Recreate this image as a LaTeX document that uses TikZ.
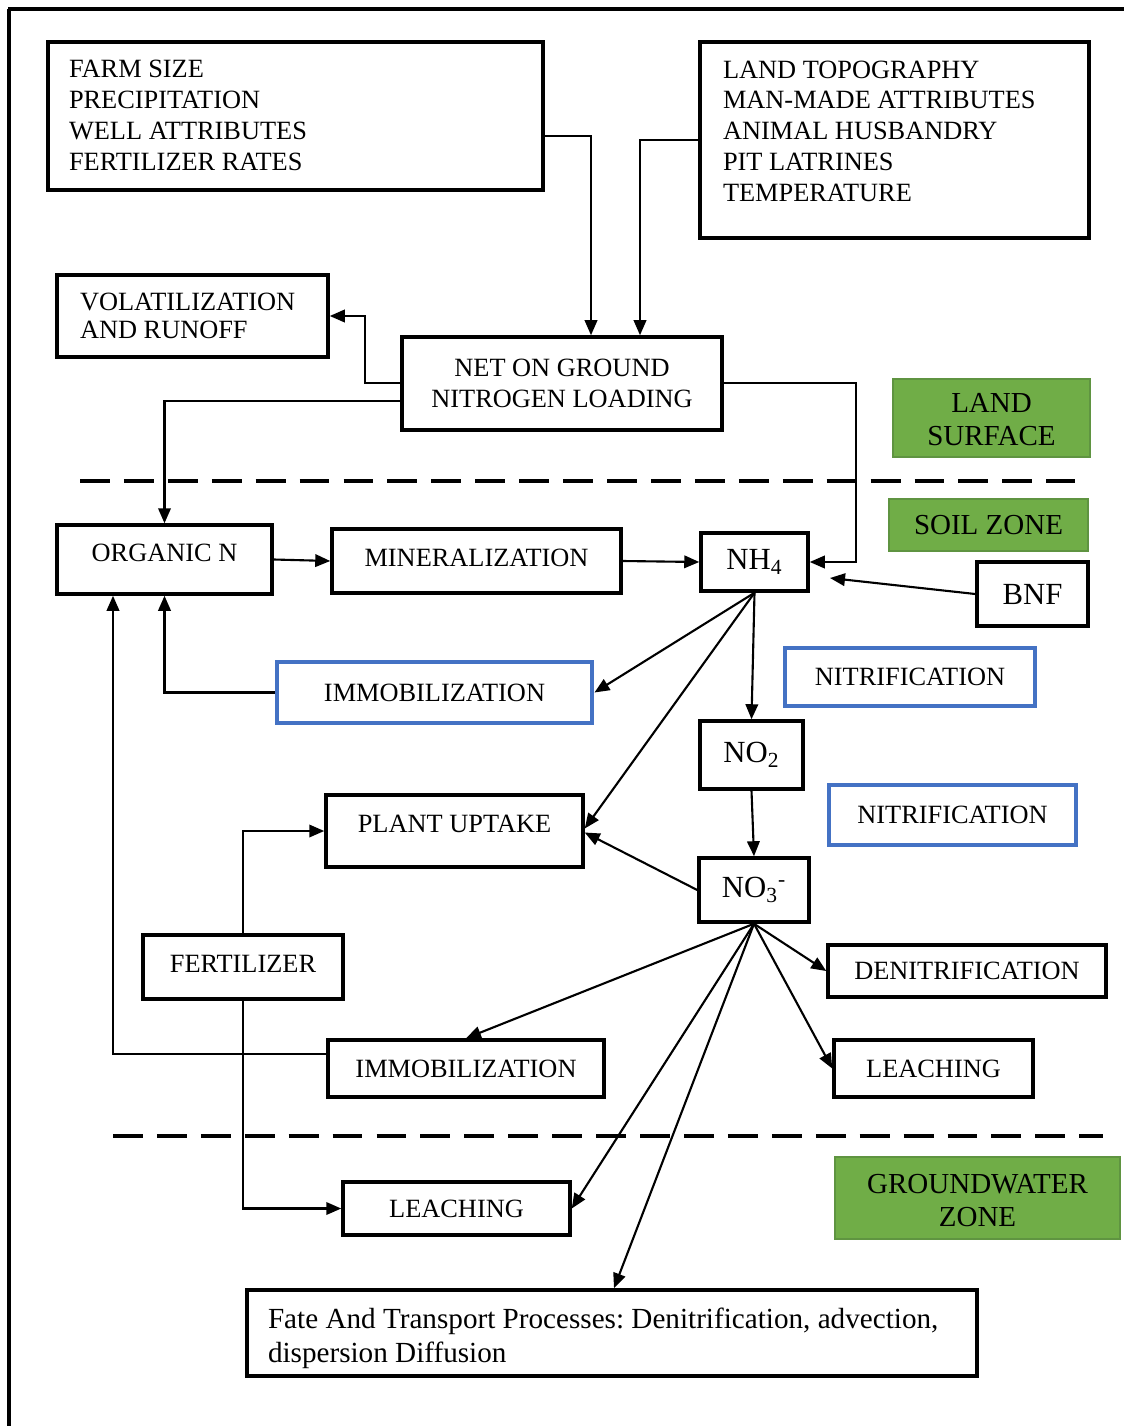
\documentclass[tikz,border=0pt]{standalone}
\usepackage{fontspec}
\setmainfont{Liberation Serif}
\usetikzlibrary{arrows.meta}
\frenchspacing
\newlength\pxl \setlength\pxl{0.02cm}
\newcommand\fsA{\fontsize{15}{17.6}\selectfont}
\newcommand\fsB{\fontsize{16.5}{18.7}\selectfont}
\newcommand\fsC{\fontsize{17.5}{21}\selectfont}
\newcommand\liftup[2]{\raisebox{#1\pxl}[10\pxl][10\pxl]{#2}}
\newcommand\lefttext[3]{\makebox[#1\pxl][l]{\raisebox{#2\pxl}[30\pxl][30\pxl]{\begin{tabular}{@{}l@{}}#3\end{tabular}}}}
\newcommand\centertext[2]{\raisebox{#1\pxl}[30\pxl][30\pxl]{\begin{tabular}{@{}c@{}}#2\end{tabular}}}
\definecolor{blueb}{HTML}{4472C4}
\definecolor{greenf}{HTML}{70AD47}
\definecolor{greend}{HTML}{5F9441}
\tikzset{
  rect/.style n args={4}{at={({(#1+#3)/2},{(#2+#4)/2})},
    minimum width={(#3-#1)*0.02cm}, minimum height={(#4-#2)*0.02cm}},
  bbox/.style={draw=black, line width=2pt, inner sep=0pt, font=\fsA, fill=white},
  blbox/.style={draw=blueb, line width=2.8pt, inner sep=0pt, font=\fsA, fill=white},
  gbox/.style={draw=greend, fill=greenf, line width=1pt, inner sep=0pt, font=\fsB, align=center},
  conn/.style={line width=1.2pt, -{Triangle[length=0.3cm,width=0.25cm]}},
  zoneline/.style={line width=2.3pt, dash pattern=on 17pt off 8pt},
  framing/.style={line width=1.8pt}
}
\begin{document}
\begin{tikzpicture}[x=0.02cm,y=-0.02cm]
\useasboundingbox (0,0) rectangle (1124,1426);
% frame
\draw[framing] (8,9) -- (1124,9);
\draw[framing] (9,9) -- (9,1426);
% zone lines
\draw[zoneline] (80,481) -- (1075,481);
\draw[zoneline] (113,1136) -- (1103,1136);
% nodes
\node[bbox, rect={48}{42}{543}{190}] (farm) {\lefttext{453}{-8}{FARM SIZE\\PRECIPITATION\\WELL ATTRIBUTES\\FERTILIZER RATES}};
\node[bbox, rect={700}{42}{1089}{238}] (land) {\lefttext{343}{0}{LAND TOPOGRAPHY\\MAN-MADE ATTRIBUTES\\ANIMAL HUSBANDRY\\PIT LATRINES\\TEMPERATURE}};
\node[bbox, rect={57}{275}{328}{357}, font=\fontsize{15}{15.9}\selectfont] (vol) {\lefttext{225}{-9}{VOLATILIZATION\\AND RUNOFF}};
\node[bbox, rect={402}{337}{722}{430}, align=center] (net) {NET ON GROUND\\NITROGEN LOADING};
\node[gbox, rect={893}{379}{1090}{457}] (lsurf) {\centertext{-12}{LAND\\SURFACE}};
\node[gbox, rect={889}{499}{1088}{551}] (soilz) {SOIL ZONE};
\node[bbox, rect={57}{525}{272}{594}] (org) {\liftup{-2}{ORGANIC N}};
\node[bbox, rect={332}{529}{621}{593}] (mine) {\liftup{-5}{MINERALIZATION}};
\node[bbox, rect={701}{533}{808}{591}, font=\fsC] (nh) {NH\textsubscript{4}};
\node[bbox, rect={977}{562}{1088}{626}, font=\fsC] (bnf) {BNF};
\node[blbox, rect={277}{662}{592}{723}] (imm1) {IMMOBILIZATION};
\node[blbox, rect={785}{648}{1035}{706}] (nit1) {NITRIFICATION};
\node[bbox, rect={700}{721}{803}{789}, font=\fsC] (notwo) {NO\textsubscript{2}};
\node[blbox, rect={829}{785}{1076}{845}] (nit2) {NITRIFICATION};
\node[bbox, rect={326}{795}{583}{867}] (plant) {\liftup{-1}{PLANT UPTAKE}};
\node[bbox, rect={699}{858}{809}{922}, font=\fsC] (nothree) {NO\textsubscript{3}\textsuperscript{-}};
\node[bbox, rect={143}{935}{343}{999}] (fert) {\liftup{-5}{FERTILIZER}};
\node[bbox, rect={828}{945}{1106}{997}] (denit) {DENITRIFICATION};
\node[bbox, rect={328}{1040}{604}{1097}] (imm2) {IMMOBILIZATION};
\node[bbox, rect={834}{1040}{1033}{1097}] (leach1) {LEACHING};
\node[gbox, rect={835}{1157}{1120}{1239}] (gwz) {\centertext{-13}{GROUNDWATER\\ZONE}};
\node[bbox, rect={343}{1182}{570}{1235}] (leach2) {LEACHING};
\node[bbox, rect={247}{1290}{977}{1376}, font=\fontsize{16.6}{19.3}\selectfont] (fate) {\lefttext{688}{-13}{Fate And Transport Processes: Denitrification, advection,\\dispersion Diffusion}};
\coordinate (bnfend) at (830,578);
% connectors
\draw[conn] (farm.east |- 0,136) -| (net.north -| 591,0);
\draw[conn] (land.west |- 0,140) -| (net.north -| 640,0);
\draw[conn] (net.west |- 0,383) -- (365,383) |- (vol.east);
\draw[conn] (net.west |- 0,401) -| (org.north);
\draw[conn] (net.east |- 0,383) -- (856,383) |- (nh.east);
\draw[conn] (org.east) -- (mine.west);
\draw[conn] (mine.east) -- (nh.west);
\draw[conn] (bnf.west) -- (bnfend);
\draw[conn] (nh.south) -- (imm1.east);
\draw[conn] (nh.south) -- ([yshift=0.05cm]plant.east);
\draw[conn] (nh.south) -- (notwo.north);
\draw[conn] (imm1.west) -| (org.south);
\draw[conn] (notwo.south) -- (nothree.north);
\draw[conn] (nothree.west) -- ([yshift=-0.03cm]plant.east);
\draw[conn] (nothree.south) -- (denit.west);
\draw[conn] (nothree.south) -- (leach1.west);
\draw[conn] (nothree.south) -- (imm2.north);
\draw[conn] (nothree.south) -- (leach2.east);
\draw[conn] (nothree.south) -- (fate.north -| 614,0);
\draw[conn] (imm2.west |- 0,1054) -| (org.south -| 113,0);
\draw[conn] (fert.north) |- (plant.west);
\draw[conn] (fert.south) |- (leach2.west);
\end{tikzpicture}
\end{document}
